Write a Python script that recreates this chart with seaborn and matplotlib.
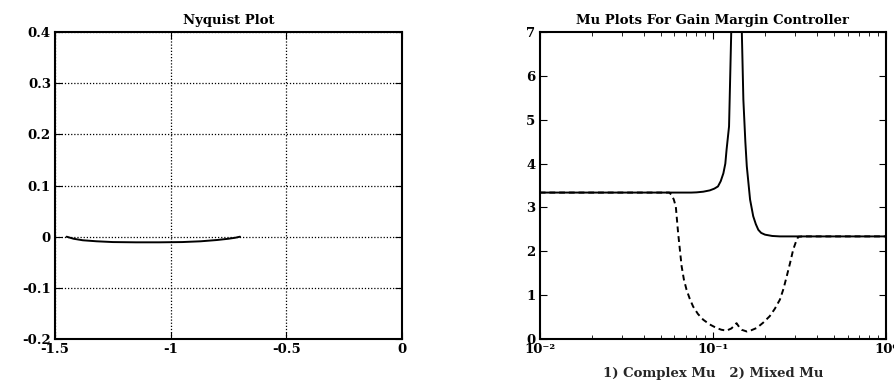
import numpy as np
import pandas as pd
import seaborn as sns
import matplotlib.pyplot as plt

# Nyquist curve (real, imag)
nyq_re = [-1.45, -1.42, -1.38, -1.32, -1.25, -1.15, -1.05, -0.95, -0.87, -0.80, -0.75, -0.72, -0.70]
nyq_im = [0.0, -0.004, -0.007, -0.009, -0.0105, -0.011, -0.011, -0.0105, -0.009, -0.0065, -0.004, -0.002, 0.0]

# Mu curves vs frequency
freq_complex = [0.01, 0.03, 0.06, 0.075, 0.0805, 0.088, 0.096, 0.102, 0.107, 0.111, 0.115, 0.118,
                0.120, 0.124, 0.128, 0.132, 0.136, 0.142, 0.1466, 0.150, 0.154, 0.157, 0.164,
                0.171, 0.177, 0.183, 0.190, 0.200, 0.220, 0.244, 0.5, 1.0]
mu_complex = [3.34, 3.34, 3.34, 3.34, 3.345, 3.36, 3.39, 3.43, 3.48, 3.60, 3.78, 4.00,
              4.32, 4.85, 7.2, 9.0, 11.0, 9.0, 7.2, 5.46, 4.50, 3.94, 3.18,
              2.80, 2.62, 2.49, 2.42, 2.38, 2.35, 2.34, 2.34, 2.34]

freq_mixed = [0.01, 0.03, 0.0560, 0.0577, 0.0595, 0.0611, 0.063, 0.066, 0.068, 0.0705, 0.0735,
              0.0769, 0.082, 0.0879, 0.096, 0.105, 0.112, 0.120, 0.128, 0.137, 0.142, 0.1466,
              0.157, 0.167, 0.179, 0.195, 0.213, 0.228, 0.244, 0.256, 0.267, 0.279, 0.291,
              0.302, 0.311, 0.33, 1.0]
mu_mixed = [3.34, 3.34, 3.34, 3.29, 3.18, 3.02, 2.42, 1.66, 1.36, 1.12, 0.92,
            0.74, 0.57, 0.44, 0.33, 0.25, 0.21, 0.19, 0.24, 0.36, 0.27, 0.21,
            0.17, 0.20, 0.25, 0.37, 0.52, 0.69, 0.90, 1.15, 1.43, 1.73, 2.04,
            2.22, 2.33, 2.34, 2.34]

sns.set_style("ticks")
plt.rcParams['font.family'] = ['DejaVu Serif']
plt.rcParams['font.weight'] = 'bold'
plt.rcParams['text.color'] = 'black'
plt.rcParams['xtick.labelcolor'] = 'black'
plt.rcParams['ytick.labelcolor'] = 'black'
plt.rcParams['xtick.color'] = 'black'
plt.rcParams['ytick.color'] = 'black'

fig = plt.figure(figsize=(8.95, 3.83), dpi=100)
ax1 = fig.add_axes([0.0615, 0.115, 0.3875, 0.801])
ax2 = fig.add_axes([0.603, 0.115, 0.387, 0.801])

nyq = pd.DataFrame({"re": nyq_re, "im": nyq_im})
sns.lineplot(data=nyq, x="re", y="im", sort=False, estimator=None, color="black", lw=1.4, ax=ax1)
ax1.set_xlim(-1.5, 0)
ax1.set_ylim(-0.2, 0.4)
ax1.set_xticks([-1.5, -1, -0.5, 0])
ax1.set_xticklabels(["-1.5", "-1", "-0.5", "0"])
ax1.set_yticks([-0.2, -0.1, 0, 0.1, 0.2, 0.3, 0.4])
ax1.set_yticklabels(["-0.2", "-0.1", "0", "0.1", "0.2", "0.3", "0.4"])
ax1.grid(True, linestyle=(0, (1, 1.5)), color="black", lw=0.9)
ax1.set_title("Nyquist Plot", fontsize=9.5, fontweight="bold", pad=6)
ax1.set_xlabel("")
ax1.set_ylabel("")

mc = pd.DataFrame({"f": freq_complex, "mu": mu_complex})
mm = pd.DataFrame({"f": freq_mixed, "mu": mu_mixed})
sns.lineplot(data=mm, x="f", y="mu", sort=False, estimator=None, color="black", lw=1.4, ls=(0, (3, 2)), ax=ax2)
sns.lineplot(data=mc, x="f", y="mu", sort=False, estimator=None, color="black", lw=1.4, ax=ax2)
ax2.set_xscale("log")
ax2.set_xlim(0.01, 1)
ax2.set_ylim(0, 7)
ax2.set_xticks([0.01, 0.1, 1])
ax2.set_xticklabels(["10⁻²", "10⁻¹", "10⁰"])
ax2.set_yticks(range(0, 8))
ax2.set_title("Mu Plots For Gain Margin Controller", fontsize=9.5, fontweight="bold", pad=6)
ax2.set_xlabel("1) Complex Mu   2) Mixed Mu", fontsize=9.5, fontweight="bold", labelpad=8)
ax2.set_ylabel("")

for ax in (ax1, ax2):
    ax.tick_params(direction="in", top=True, right=True, which="both", labelsize=9.5, length=5, pad=3)
    ax.tick_params(which="minor", length=3)
    for s in ax.spines.values():
        s.set_linewidth(1.5)
        s.set_color("black")
    for lab in ax.get_xticklabels() + ax.get_yticklabels():
        lab.set_fontweight("bold")

fig.savefig("out.png", dpi=100)
